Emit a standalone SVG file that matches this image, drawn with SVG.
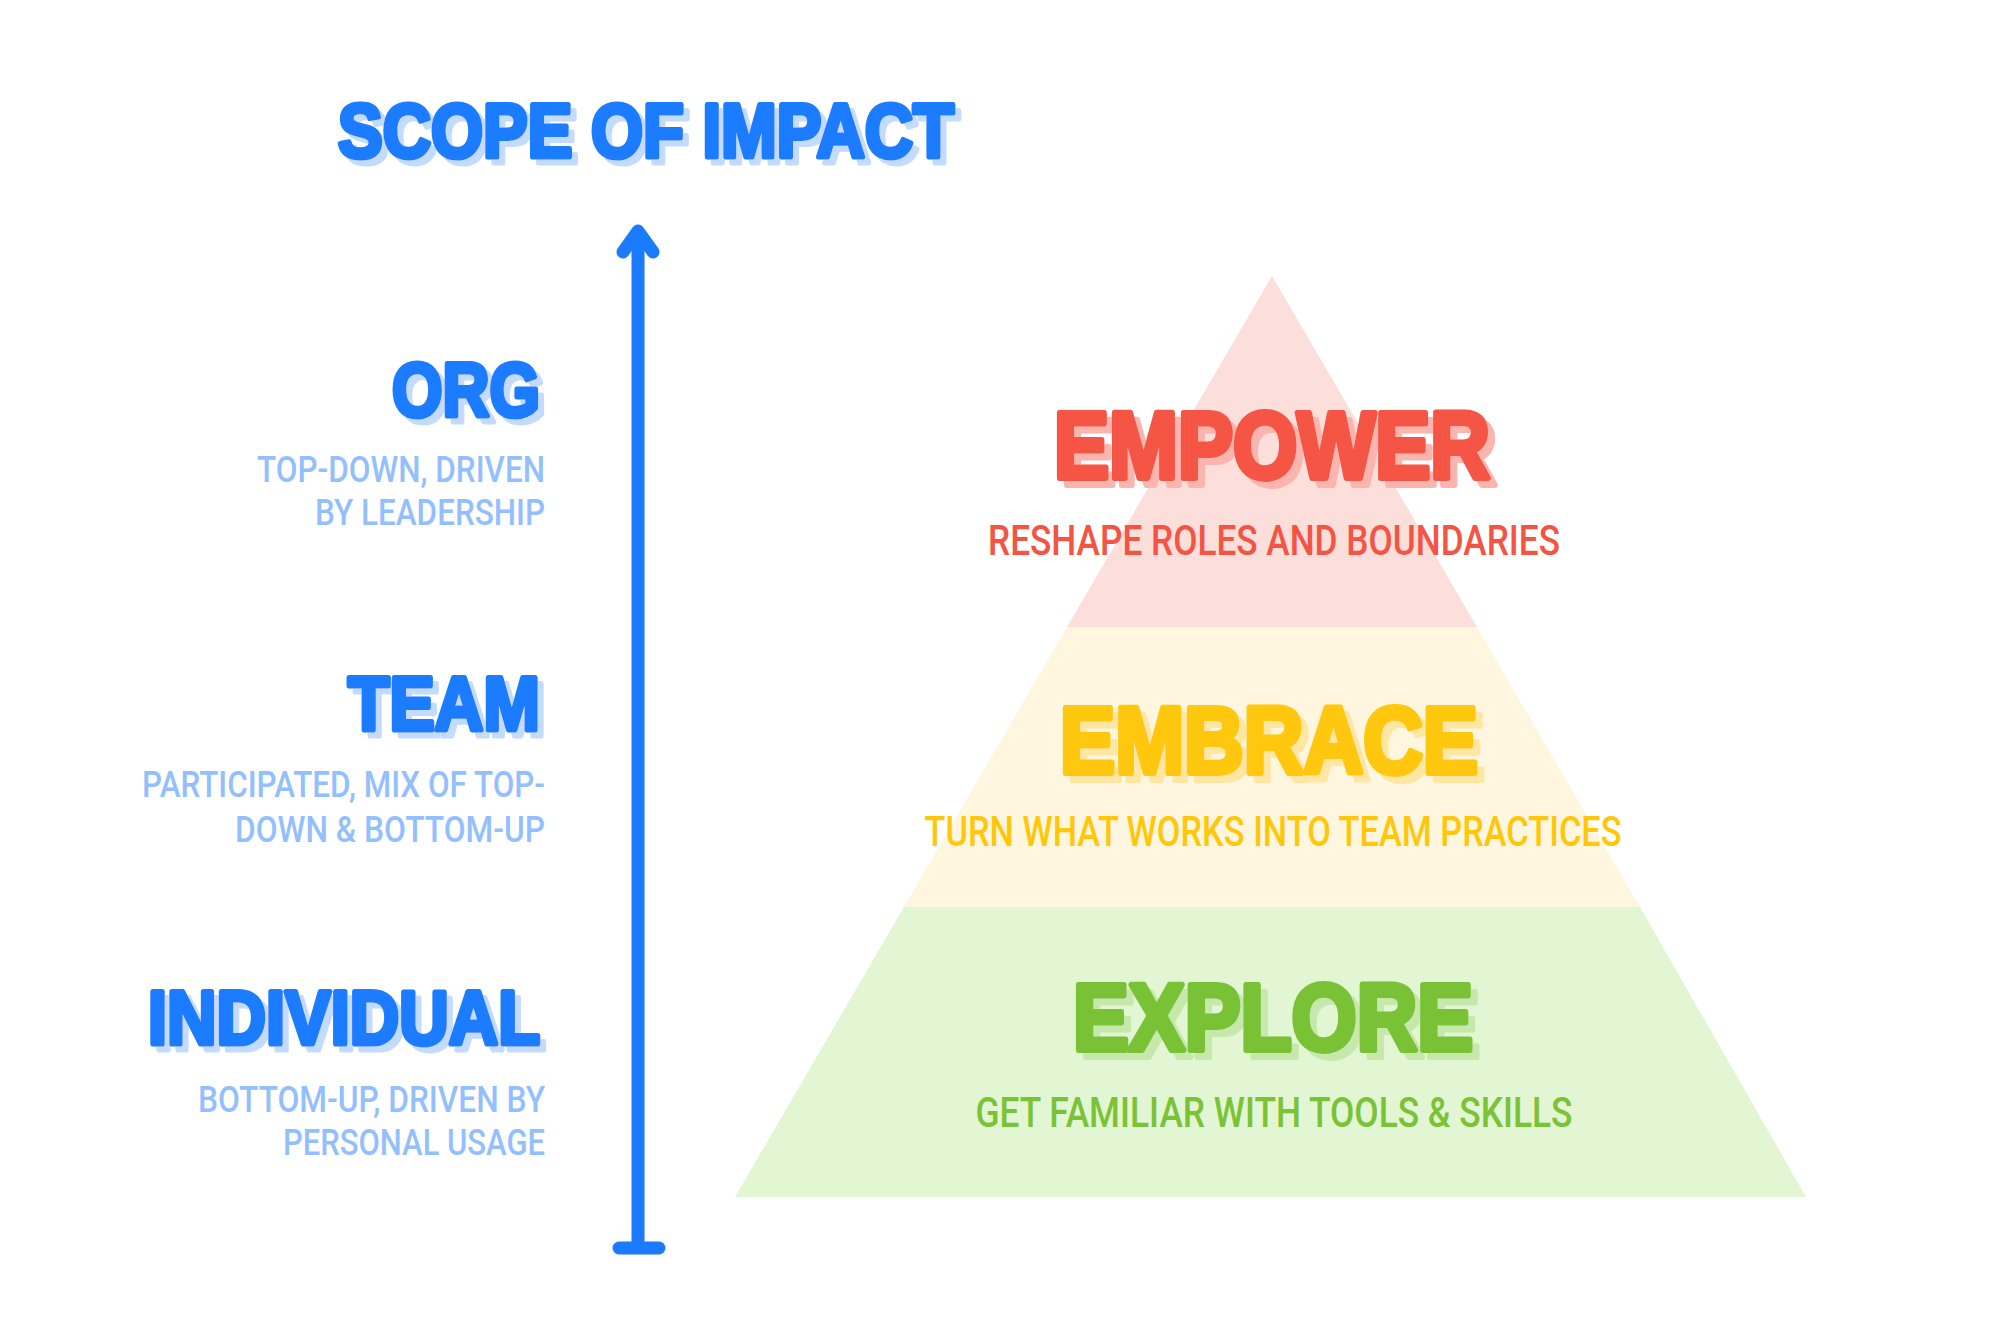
<svg xmlns="http://www.w3.org/2000/svg" width="2004" height="1328" viewBox="0 0 2004 1328">
<style>
.hd{font-family:"Liberation Sans",Arial,sans-serif;font-weight:700;stroke-linejoin:round;stroke-linecap:round}
.sb{font-family:Roboto,"Liberation Sans",sans-serif;font-weight:500}
.blue{fill:#1b7bff;stroke:#1b7bff;filter:url(#shB)}
.lb{fill:#94bfff;font-size:36px}
.red{fill:#f45444;stroke:#f45444;filter:url(#shR)}
.yel{fill:#ffc70c;stroke:#ffc70c;filter:url(#shY)}
.grn{fill:#7ac236;stroke:#7ac236;filter:url(#shG)}
.h1{font-size:76px;stroke-width:5}
.h2{font-size:94px;stroke-width:6}
.ts{font-size:42px}
</style>
<defs>
<filter id="shB" x="-5%" y="-20%" width="115%" height="150%"><feFlood flood-color="#c3dbff"/><feComposite in2="SourceAlpha" operator="in"/><feOffset dx="6" dy="6" result="s"/><feMerge><feMergeNode in="s"/><feMergeNode in="SourceGraphic"/></feMerge></filter>
<filter id="shR" x="-5%" y="-20%" width="115%" height="150%"><feFlood flood-color="#fbb5ae"/><feComposite in2="SourceAlpha" operator="in"/><feOffset dx="7" dy="7" result="s"/><feMerge><feMergeNode in="s"/><feMergeNode in="SourceGraphic"/></feMerge></filter>
<filter id="shY" x="-5%" y="-20%" width="115%" height="150%"><feFlood flood-color="#ffe6a3"/><feComposite in2="SourceAlpha" operator="in"/><feOffset dx="7" dy="7" result="s"/><feMerge><feMergeNode in="s"/><feMergeNode in="SourceGraphic"/></feMerge></filter>
<filter id="shG" x="-5%" y="-20%" width="115%" height="150%"><feFlood flood-color="#c6e8aa"/><feComposite in2="SourceAlpha" operator="in"/><feOffset dx="7" dy="7" result="s"/><feMerge><feMergeNode in="s"/><feMergeNode in="SourceGraphic"/></feMerge></filter>
</defs>
<rect width="2004" height="1328" fill="#ffffff"/>

<g id="title">
<text class="hd h1 blue" x="646" y="157" text-anchor="middle" textLength="616" lengthAdjust="spacingAndGlyphs">SCOPE OF IMPACT</text>
</g>

<g id="connectors">
<line x1="638" y1="234" x2="638" y2="1247" stroke="#1b7bff" stroke-width="13"/>
<polyline points="623,252 638,231 653,252" fill="none" stroke="#1b7bff" stroke-width="13" stroke-linecap="round" stroke-linejoin="round"/>
<line x1="619" y1="1248" x2="659" y2="1248" stroke="#1b7bff" stroke-width="13" stroke-linecap="round"/>
</g>

<g id="org">
<text class="hd h1 blue" x="540" y="416" text-anchor="end" textLength="148" lengthAdjust="spacingAndGlyphs">ORG</text>
<text class="sb lb" x="545" y="482" text-anchor="end" textLength="288" lengthAdjust="spacingAndGlyphs">TOP-DOWN, DRIVEN</text>
<text class="sb lb" x="545" y="525" text-anchor="end" textLength="230" lengthAdjust="spacingAndGlyphs">BY LEADERSHIP</text>
</g>

<g id="team">
<text class="hd h1 blue" x="540" y="730" text-anchor="end" textLength="192" lengthAdjust="spacingAndGlyphs">TEAM</text>
<text class="sb lb" x="545" y="797" text-anchor="end" textLength="403" lengthAdjust="spacingAndGlyphs">PARTICIPATED, MIX OF TOP-</text>
<text class="sb lb" x="545" y="842" text-anchor="end" textLength="310" lengthAdjust="spacingAndGlyphs">DOWN &amp; BOTTOM-UP</text>
</g>

<g id="individual">
<text class="hd h1 blue" x="540" y="1044" text-anchor="end" textLength="392" lengthAdjust="spacingAndGlyphs">INDIVIDUAL</text>
<text class="sb lb" x="545" y="1112" text-anchor="end" textLength="347" lengthAdjust="spacingAndGlyphs">BOTTOM-UP, DRIVEN BY</text>
<text class="sb lb" x="545" y="1155" text-anchor="end" textLength="262" lengthAdjust="spacingAndGlyphs">PERSONAL USAGE</text>
</g>

<g id="empower">
<polygon points="1272,276 1477,627 1067,627" fill="#fcdedb"/>
<text class="hd h2 red" x="1272" y="478" text-anchor="middle" textLength="436" lengthAdjust="spacingAndGlyphs">EMPOWER</text>
<text class="sb ts" x="1274" y="555" text-anchor="middle" fill="#f45444" textLength="572" lengthAdjust="spacingAndGlyphs">RESHAPE ROLES AND BOUNDARIES</text>
</g>

<g id="embrace">
<polygon points="1067,627 1477,627 1640,907 904,907" fill="#fff6df"/>
<text class="hd h2 yel" x="1269" y="773" text-anchor="middle" textLength="418" lengthAdjust="spacingAndGlyphs">EMBRACE</text>
<text class="sb ts" x="1273" y="846" text-anchor="middle" fill="#ffc70c" textLength="697" lengthAdjust="spacingAndGlyphs">TURN WHAT WORKS INTO TEAM PRACTICES</text>
</g>

<g id="explore">
<polygon points="904,907 1640,907 1806,1197 735,1197" fill="#e2f6d3"/>
<text class="hd h2 grn" x="1273" y="1050" text-anchor="middle" textLength="400" lengthAdjust="spacingAndGlyphs">EXPLORE</text>
<text class="sb ts" x="1274" y="1127" text-anchor="middle" fill="#7ac236" textLength="597" lengthAdjust="spacingAndGlyphs">GET FAMILIAR WITH TOOLS &amp; SKILLS</text>
</g>
</svg>
